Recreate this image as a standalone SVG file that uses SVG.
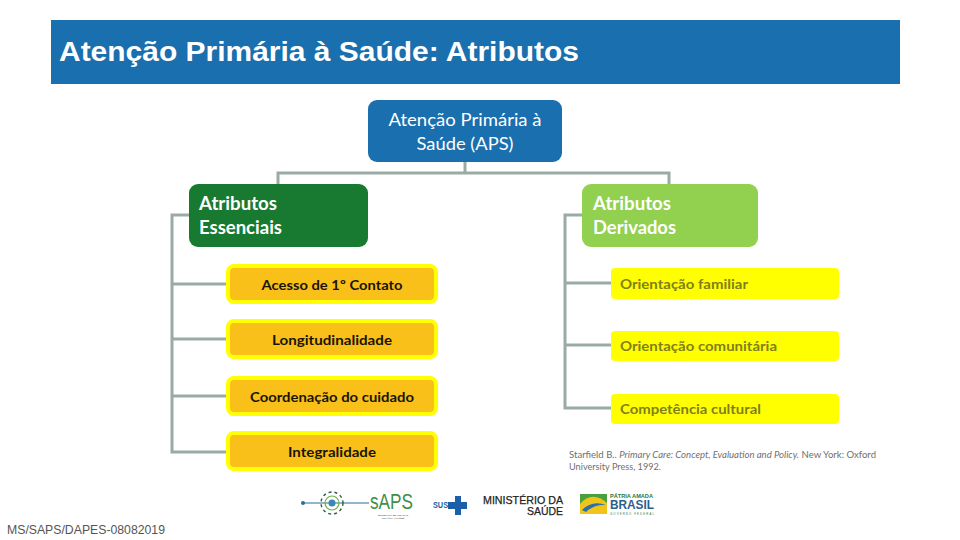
<svg xmlns="http://www.w3.org/2000/svg" width="960" height="540" viewBox="0 0 960 540">
<style>
text{font-family:Lato,"Open Sans","Liberation Sans",sans-serif}
.a{font-family:"Liberation Sans",sans-serif}
.c{fill:none;stroke:#9aaba3;stroke-width:3}
.h{font-size:18px;fill:#fff}
.hb{font-size:18px;fill:#fff;font-weight:700}
.ob{fill:#f9c01a;stroke:#ffff00;stroke-width:4}
.yb{fill:#ffff00}
.ot{font-size:14px;font-weight:700;fill:#1a1408;text-anchor:middle}
.yt{font-size:14px;font-weight:700;fill:#7f7f1c}
.ref{font-size:9.4px;fill:#6f6f6f}
</style>
<rect id="banner" x="51" y="20" width="849" height="64" fill="#1a6fae"/>
<text id="title" class="a" x="59" y="61" font-size="27" font-weight="700" fill="#fff" textLength="520" lengthAdjust="spacingAndGlyphs">Atenção Primária à Saúde: Atributos</text>
<g id="connectors">
<path class="c" d="M465 162V173M278 184V173H669V184"/>
<path class="c" d="M189 215H172V452H228M172 284H228M172 339H228M172 396H228"/>
<path class="c" d="M583 215H565V408H612M565 283H612M565 345H612"/>
</g>
<g id="aps"><rect x="368" y="100" width="194" height="62" rx="9" fill="#1a6fae"/>
<text class="h" text-anchor="middle" x="465" y="126" textLength="153" lengthAdjust="spacingAndGlyphs">Atenção Primária à</text>
<text class="h" text-anchor="middle" x="465" y="150" textLength="97" lengthAdjust="spacingAndGlyphs">Saúde (APS)</text></g>
<g id="essenciais"><rect x="189" y="184" width="179" height="63" rx="9" fill="#177a30"/>
<text class="hb" x="199" y="210" textLength="78" lengthAdjust="spacingAndGlyphs">Atributos</text>
<text class="hb" x="199" y="234" textLength="83" lengthAdjust="spacingAndGlyphs">Essenciais</text></g>
<g id="derivados"><rect x="582" y="184" width="176" height="63" rx="9" fill="#92d050"/>
<text class="hb" x="593" y="210" textLength="78" lengthAdjust="spacingAndGlyphs">Atributos</text>
<text class="hb" x="593" y="234" textLength="83" lengthAdjust="spacingAndGlyphs">Derivados</text></g>
<g id="acesso"><rect class="ob" x="228" y="266" width="208" height="36" rx="6"/><text class="ot" x="332" y="290" textLength="141" lengthAdjust="spacingAndGlyphs">Acesso de 1º Contato</text></g>
<g id="longitudinalidade"><rect class="ob" x="228" y="321" width="208" height="36" rx="6"/><text class="ot" x="332" y="345" textLength="120" lengthAdjust="spacingAndGlyphs">Longitudinalidade</text></g>
<g id="coordenacao"><rect class="ob" x="228" y="378" width="208" height="36" rx="6"/><text class="ot" x="332" y="402" textLength="164" lengthAdjust="spacingAndGlyphs">Coordenação do cuidado</text></g>
<g id="integralidade"><rect class="ob" x="228" y="433" width="208" height="36" rx="6"/><text class="ot" x="332" y="457" textLength="88" lengthAdjust="spacingAndGlyphs">Integralidade</text></g>
<g id="familiar"><rect class="yb" x="611" y="268" width="228" height="31" rx="4"/><text class="yt" x="620" y="289" textLength="128" lengthAdjust="spacingAndGlyphs">Orientação familiar</text></g>
<g id="comunitaria"><rect class="yb" x="611" y="331" width="228" height="30" rx="4"/><text class="yt" x="620" y="351" textLength="157" lengthAdjust="spacingAndGlyphs">Orientação comunitária</text></g>
<g id="cultural"><rect class="yb" x="611" y="394" width="228" height="30" rx="4"/><text class="yt" x="620" y="414" textLength="141" lengthAdjust="spacingAndGlyphs">Competência cultural</text></g>
<text class="ref" x="569" y="458" textLength="307" lengthAdjust="spacingAndGlyphs">Starfield B.. <tspan font-style="italic">Primary Care: Concept, Evaluation and Policy.</tspan>  New York: Oxford</text>
<text class="ref" x="569" y="470" textLength="92" lengthAdjust="spacingAndGlyphs">University Press, 1992.</text>
<text id="code" class="a" x="7" y="534" font-size="12" fill="#555" textLength="158" lengthAdjust="spacingAndGlyphs">MS/SAPS/DAPES-08082019</text>
<g id="logo-saps">
<path d="M303 503H369" stroke="#2a6f97" stroke-width="1.2" fill="none"/>
<circle cx="303" cy="503" r="2" fill="#2a6f97"/>
<circle cx="332" cy="503" r="3.500" fill="#3a86b7"/>
<circle cx="332" cy="503" r="7" fill="none" stroke="#6db24a" stroke-width="1.2"/>
<circle cx="332" cy="503" r="11" fill="none" stroke="#2d5f3f" stroke-width="1.4" stroke-dasharray="3 3"/>
<text class="a" x="370" y="509" font-size="22" fill="#3f8f46" textLength="43" lengthAdjust="spacingAndGlyphs">sAPS</text>
<text x="393" y="515.500" text-anchor="middle" font-size="2.500" fill="#444">SECRETARIA DE ATENÇÃO</text>
<text x="393" y="518.500" text-anchor="middle" font-size="2.500" fill="#444">PRIMÁRIA À SAÚDE</text>
</g>
<g id="logo-sus">
<text class="a" x="433" y="508" font-size="9" font-weight="700" fill="#1b5fa8" textLength="15" lengthAdjust="spacingAndGlyphs">SUS</text>
<path d="M455 496h6v6h6v7h-6v6h-6v-6h-7v-7h7z" fill="#1b5fa8"/>
</g>
<g id="logo-ms">
<text class="a" x="483" y="503.500" font-size="11" fill="#222" stroke="#222" stroke-width=".25" textLength="80" lengthAdjust="spacingAndGlyphs">MINISTÉRIO DA</text>
<text class="a" x="527" y="515" font-size="11" fill="#222" stroke="#222" stroke-width=".25" textLength="36" lengthAdjust="spacingAndGlyphs">SAÚDE</text>
</g>
<g id="logo-brasil">
<rect x="580" y="494" width="27" height="20" fill="#4aa03f"/>
<path d="M580 504Q592 490 607 503V514H580Z" fill="#f0c419"/>
<path d="M582 510Q592 500 606 505Q594 504 586 512Z" fill="#2a6fb0"/>
<text class="a" x="610" y="497.500" font-size="5" font-weight="700" fill="#2c7a3a" textLength="43" lengthAdjust="spacingAndGlyphs">PÁTRIA AMADA</text>
<text class="a" x="610" y="509" font-size="12" font-weight="700" fill="#2c5f8a" textLength="44" lengthAdjust="spacingAndGlyphs">BRASIL</text>
<text class="a" x="610" y="514.500" font-size="2.800" fill="#2c7a3a" textLength="44">GOVERNO FEDERAL</text>
</g>
</svg>
